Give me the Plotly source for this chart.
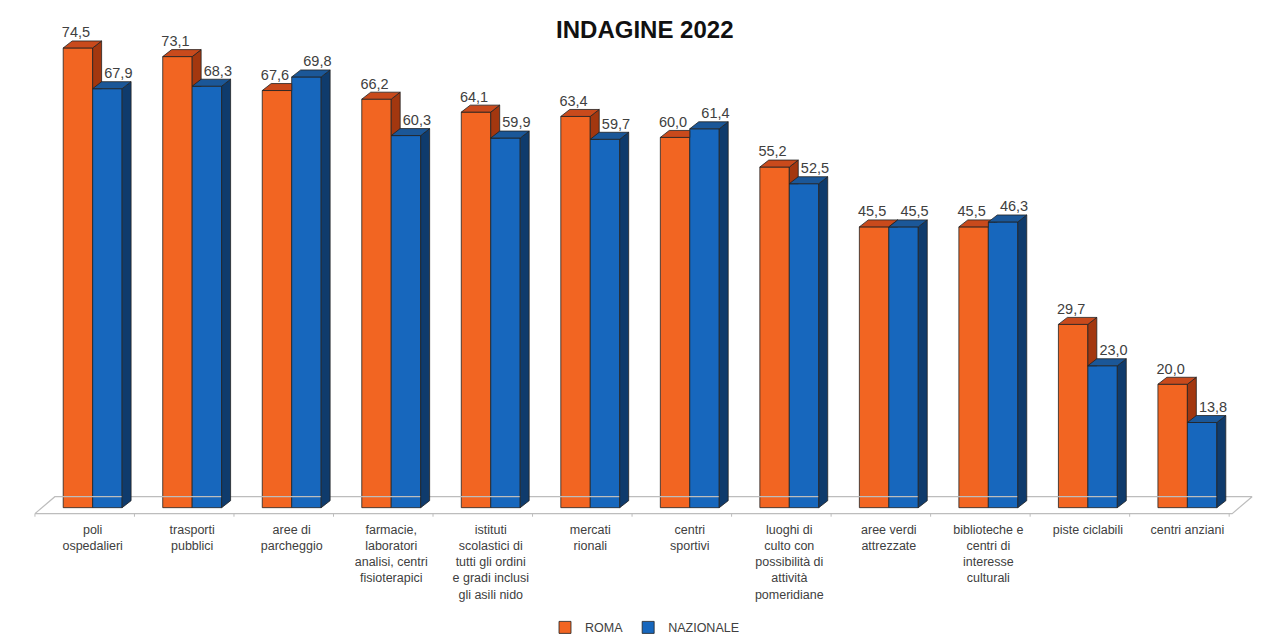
import plotly.graph_objects as go

# ---------------- data ----------------
categories = [
    "poli<br>ospedalieri",
    "trasporti<br>pubblici",
    "aree di<br>parcheggio",
    "farmacie,<br>laboratori<br>analisi, centri<br>fisioterapici",
    "istituti<br>scolastici di<br>tutti gli ordini<br>e gradi inclusi<br>gli asili nido",
    "mercati<br>rionali",
    "centri<br>sportivi",
    "luoghi di<br>culto con<br>possibilità di<br>attività<br>pomeridiane",
    "aree verdi<br>attrezzate",
    "biblioteche e<br>centri di<br>interesse<br>culturali",
    "piste ciclabili",
    "centri anziani",
]
roma = [74.5, 73.1, 67.6, 66.2, 64.1, 63.4, 60.0, 55.2, 45.5, 45.5, 29.7, 20.0]
nazionale = [67.9, 68.3, 69.8, 60.3, 59.9, 59.7, 61.4, 52.5, 45.5, 46.3, 23.0, 13.8]
series_names = ["ROMA", "NAZIONALE"]
title_text = "INDAGINE 2022"

# ---------------- style / geometry ----------------
W = 0.296        # bar width (category units)
DX = 0.09        # 3D depth offset in x (category units)
DY = 1.13        # 3D depth offset in y (value units)
ORANGE = "#F26522"
ORANGE_TOP = "#C94A1C"
ORANGE_SIDE = "#A3370F"
BLUE = "#1767BD"
BLUE_TOP = "#1B5798"
BLUE_SIDE = "#0F3B6C"
EDGE = "#222222"
TXT = "#404040"
FONT = "Liberation Sans"

x = list(range(len(categories)))


def fmt(v):
    return f"{v:.1f}".replace(".", ",")


def poly_trace(xs, ys, color):
    return go.Scatter(x=xs + [xs[0]], y=ys + [ys[0]], mode="lines", fill="toself",
                      fillcolor=color, line=dict(color=EDGE, width=0.8),
                      hoverinfo="skip", showlegend=False)


fig = go.Figure()

# floor
fx0, fx1 = -0.58, len(categories) - 0.55
fy0, fdepth_x, fdepth_y = -0.97, 0.2, 2.75
fig.add_trace(go.Scatter(
    x=[fx0, fx1, fx1 + fdepth_x, fx0 + fdepth_x, fx0],
    y=[fy0, fy0, fy0 + fdepth_y, fy0 + fdepth_y, fy0],
    mode="lines", line=dict(color="#BDBDBD", width=1.2),
    hoverinfo="skip", showlegend=False))
# floor tick marks
tx, ty = [], []
for i in range(len(categories) + 1):
    xv = i - 0.58
    tx += [xv, xv, None]
    ty += [fy0, fy0 - 0.5, None]
fig.add_trace(go.Scatter(x=tx, y=ty, mode="lines", line=dict(color="#BDBDBD", width=1),
                         hoverinfo="skip", showlegend=False))

# front faces as bars
fig.add_trace(go.Bar(x=x, y=roma, name=series_names[0], width=W, offset=-W,
                     marker=dict(color=ORANGE, line=dict(color=EDGE, width=0.8))))
fig.add_trace(go.Bar(x=x, y=nazionale, name=series_names[1], width=W, offset=0,
                     marker=dict(color=BLUE, line=dict(color=EDGE, width=0.8))))

# 3D faces
for i, (v, b) in enumerate(zip(roma, nazionale)):
    # orange side (visible part above the blue front face)
    if v >= b:
        fig.add_trace(poly_trace([i, i + DX, i + DX, i], [b, b, v + DY, v], ORANGE_SIDE))
    elif b < v + DY:
        xi = i + (b - v) / DY * DX
        fig.add_trace(poly_trace([xi, i + DX, i + DX], [b, b, v + DY], ORANGE_SIDE))
    # orange top
    if b <= v:
        fig.add_trace(poly_trace([i - W, i, i + DX, i - W + DX], [v, v, v + DY, v + DY], ORANGE_TOP))
    elif b < v + DY:
        xi = i + (b - v) / DY * DX
        fig.add_trace(poly_trace([i - W, i, i, xi, i + DX, i - W + DX],
                                 [v, v, b, b, v + DY, v + DY], ORANGE_TOP))
    else:
        fig.add_trace(poly_trace([i - W, i, i, i - W + DX], [v, v, v + DY, v + DY], ORANGE_TOP))
    # blue side and top
    fig.add_trace(poly_trace([i + W, i + W + DX, i + W + DX, i + W], [0, DY, b + DY, b], BLUE_SIDE))
    fig.add_trace(poly_trace([i, i + W, i + W + DX, i + DX], [b, b, b + DY, b + DY], BLUE_TOP))

# value labels
fig.add_trace(go.Scatter(
    x=[i - W / 2 - 0.02 for i in x], y=[v + DY for v in roma],
    text=[fmt(v) for v in roma], mode="text", textposition="top center",
    textfont=dict(family=FONT, size=14.5, color=TXT), hoverinfo="skip",
    showlegend=False, cliponaxis=False))
fig.add_trace(go.Scatter(
    x=[i + W / 2 + 0.11 for i in x], y=[b + DY for b in nazionale],
    text=[fmt(b) for b in nazionale], mode="text", textposition="top center",
    textfont=dict(family=FONT, size=14.5, color=TXT), hoverinfo="skip",
    showlegend=False, cliponaxis=False))

fig.update_layout(
    width=1287, height=644,
    margin=dict(l=23, r=20, t=14, b=124, autoexpand=False),
    paper_bgcolor="white", plot_bgcolor="white",
    font=dict(family=FONT, color=TXT),
    title=dict(text=f"<b>{title_text}</b>", x=0.501, xanchor="center",
               y=1 - 30 / 644, yanchor="middle", yref="container",
               font=dict(family=FONT, size=24, color="#111111")),
    xaxis=dict(range=[-0.7, 11.8], tickvals=x, ticktext=categories,
               showgrid=False, zeroline=False, showline=False, ticks="",
               automargin=False,
               tickfont=dict(family=FONT, size=12.5, color=TXT), tickangle=0),
    yaxis=dict(range=[-2, 80], visible=False),
    legend=dict(orientation="h", x=0.5, xanchor="center", y=-0.213, yanchor="middle",
                itemwidth=30, entrywidth=0,
                font=dict(family=FONT, size=12.5, color=TXT), traceorder="normal"),
    showlegend=True,
)

fig.write_html("out.html")
